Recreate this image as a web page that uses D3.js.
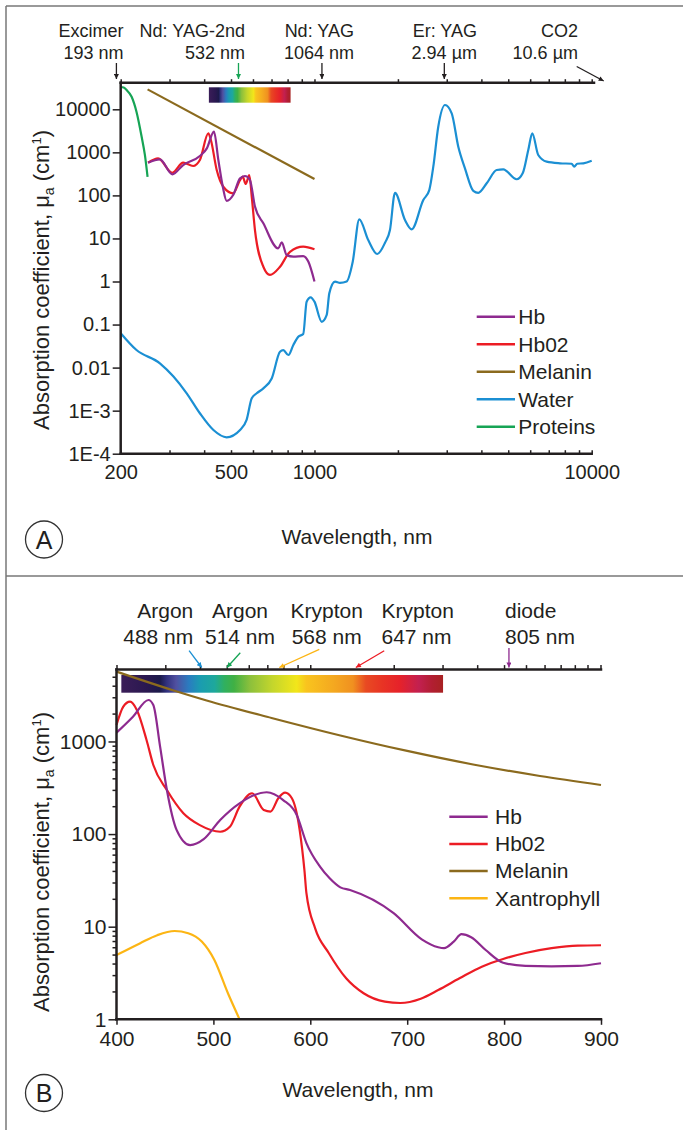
<!DOCTYPE html>
<html>
<head>
<meta charset="utf-8">
<script src="https://cdn.jsdelivr.net/npm/d3@7"></script>
<style>
  body { margin: 0; background: #fff; }
  svg { display: block; font-family: 'Liberation Sans', Arial, Helvetica, sans-serif; }
  text { fill: #231f20; }
</style>
</head>
<body>
<svg id="chart" width="683" height="1130"></svg>
<script>
// ---- data ----
// panel A: wavelength (nm), absorption coefficient (1/cm)
var hbA = [[251,575],[277,690],[307,309],[336,508],[386,822],[409,1240],[434,3020],[450,664],[467,159],[482,75],[509,102],[539,250],[561,282],[585,228],[610,55],[654,22.5],[740,5.9],[762,8.1],[794,4.1],[839,3.8],[911,3.9],[950,2.9],[1000,1.0]];
var hbo2A = [[251,575],[273,727],[307,336],[336,575],[365,482],[386,664],[414,2770],[423,1940],[444,389],[469,159],[509,112],[539,228],[551,272],[565,184],[582,298],[594,93],[610,15.7],[654,2.2],[691,1.42],[751,2.2],[816,4.9],[911,6.45],[1000,5.6]];
var melaninA = [[250,29000],[1000,240]];
var waterA = [[200,0.063],[228,0.0256],[277,0.0126],[310,0.0062],[346,0.00253],[386,0.00087],[432,3.55e-4],[482,2.4e-4],[539,3.55e-4],[569,6.1e-4],[594,1.94e-3],[619,2.53e-3],[654,3.3e-3],[701,5.6e-3],[751,0.0234],[772,0.0256],[805,0.0196],[839,0.0335],[874,0.0522],[911,0.0605],[937,0.34],[969,0.43],[1000,0.34],[1062,0.116],[1107,0.167],[1131,0.53],[1186,0.99],[1236,0.93],[1306,1.0],[1374,2.88],[1451,27.8],[1563,9.2],[1685,4.35],[1797,7.97],[1872,15.7],[1952,115],[2121,26.8],[2242,16.3],[2469,78],[2595,133],[2683,464],[2796,3945],[2957,12580],[3126,8080],[3302,1352],[3490,426],[3740,128],[3899,115],[4180,191],[4541,389],[4797,404],[5360,237],[5637,326],[5905,1135],[6105,2770],[6415,867],[6880,607],[7685,557],[8468,544],[8650,464],[8870,544],[9327,557],[10000,640]];
var proteinsA = [[200,33000],[205,32000],[210,28000],[219,19600],[228,8800],[238,2300],[244.5,870],[250,270]];

// panel B
var hbB = [[400,1245],[417,1853],[433,2805],[438,2477],[445,879],[452,299],[462,111],[476,76],[490,88],[507,142],[527,215],[555,283],[572,233],[586,161],[596,80],[610,44.5],[620,33.3],[631,26.6],[641,24.9],[686,14],[715,7.3],[732,6.0],[738,5.87],[748,6.9],[756,8.3],[766,7.7],[781,5.6],[799,4.08],[822,3.77],[849,3.73],[876,3.77],[900,4.03]];
var hbo2B = [[400,1507],[407,2375],[414,2690],[421,2190],[431,1038],[438,557],[452,299],[469,168],[486,125],[507,106],[517,120],[527,198],[540,276],[552,182],[559,175],[567,244],[574,280],[581,244],[589,111],[594,40],[596,23],[605,9.6],[619,5.2],[637,2.77],[655,1.91],[677,1.55],[693,1.5],[714,1.67],[732,2.07],[754,2.77],[777,3.7],[799,4.48],[822,5.2],[849,5.86],[876,6.25],[900,6.3]];
var melaninB = [[400,5680],[459,3555],[493,2772],[560,1794],[631,1161],[700,790],[768,564],[837,424],[900,339]];
var xanB = [[400,4.94],[424,6.6],[442,8.1],[460,8.98],[474,8.5],[488,6.9],[501,4.37],[515,1.91],[527,1.0]];

var namesA = ['Hb', 'Hb02', 'Melanin', 'Water', 'Proteins'];
var namesB = ['Hb', 'Hb02', 'Melanin', 'Xantrophyll'];

var lasersA = [
  {name: 'Excimer', wl: 193, text: '193 nm'},
  {name: 'Nd: YAG-2nd', wl: 532, text: '532 nm'},
  {name: 'Nd: YAG', wl: 1064, text: '1064 nm'},
  {name: 'Er: YAG', wl: 2940, text: '2.94 \u00b5m'},
  {name: 'CO2', wl: 10600, text: '10.6 \u00b5m'}
];
var lasersB = [
  {name: 'Argon', wl: 488, text: '488 nm'},
  {name: 'Argon', wl: 514, text: '514 nm'},
  {name: 'Krypton', wl: 568, text: '568 nm'},
  {name: 'Krypton', wl: 647, text: '647 nm'},
  {name: 'diode', wl: 805, text: '805 nm'}
];

var yTicksA = [1e4, 1e3, 1e2, 10, 1, 0.1, 0.01, 1e-3, 1e-4];
var yLabelsA = ['10000', '1000', '100', '10', '1', '0.1', '0.01', '1E-3', '1E-4'];
var xLabelsA = [200, 500, 1000, 10000];
var logTicks = [200,300,400,500,600,700,800,900,1000,2000,3000,4000,5000,6000,7000,8000,9000,10000];
var xTicksB = [400, 500, 600, 700, 800, 900];
var yTicksB = [1, 10, 100, 1000];
var spectrumA = [416, 820];
var spectrumB = [405, 737];

// ---- styles ----
var colors = {
  'Hb': '#8e2a8f', 'Hb02': '#ec1c24', 'Melanin': '#8b6a1e', 'Water': '#1b8fd3',
  'Proteins': '#16a455', 'Xantrophyll': '#fcb514'
};
var ink = '#231f20';
var specStops = [
  [0, '#3a1d58'], [0.08, '#2a1850'], [0.12, '#1c1a4a'], [0.14, '#30307c'], [0.17, '#5050a0'],
  [0.21, '#2a7cc0'], [0.245, '#1a9cb0'], [0.29, '#1ea89c'], [0.32, '#30b060'], [0.35, '#40b044'],
  [0.40, '#8cc03c'], [0.47, '#c4d62c'], [0.545, '#f2e61a'], [0.575, '#f9c41e'], [0.66, '#f4a820'],
  [0.72, '#f09020'], [0.76, '#e84a22'], [0.81, '#e83424'], [0.865, '#e6222a'], [0.925, '#c22050'],
  [0.965, '#b21e32'], [1, '#a82222']
];

var svg = d3.select('#chart');
var defs = svg.append('defs');

var grad = defs.append('linearGradient').attr('id', 'spec').attr('x1', 0).attr('x2', 1).attr('y1', 0).attr('y2', 0);
specStops.forEach(function(s) {
  grad.append('stop').attr('offset', s[0]).attr('stop-color', s[1]);
});

function arrowMarker(id, color) {
  defs.append('marker')
    .attr('id', id)
    .attr('viewBox', '0 0 10 10')
    .attr('refX', 10).attr('refY', 5)
    .attr('markerWidth', 6).attr('markerHeight', 5)
    .attr('markerUnits', 'userSpaceOnUse')
    .attr('orient', 'auto')
    .append('path').attr('d', 'M0,0L10,5L0,10z').attr('fill', color);
  return 'url(#' + id + ')';
}

// frame
svg.append('line').attr('x1', 6).attr('y1', 6).attr('x2', 683).attr('y2', 6).attr('stroke', '#777').attr('stroke-width', 1.5);
svg.append('line').attr('x1', 6).attr('y1', 6).attr('x2', 6).attr('y2', 1130).attr('stroke', '#777').attr('stroke-width', 1.5);
svg.append('line').attr('x1', 6).attr('y1', 576).attr('x2', 683).attr('y2', 576).attr('stroke', '#777').attr('stroke-width', 1.5);

function hline(x1, x2, y) {
  svg.append('line').attr('x1', x1).attr('x2', x2).attr('y1', y).attr('y2', y)
    .attr('stroke', ink).attr('stroke-width', 2.5).attr('stroke-linecap', 'square');
}
function vline(x, y1, y2) {
  svg.append('line').attr('x1', x).attr('x2', x).attr('y1', y1).attr('y2', y2)
    .attr('stroke', ink).attr('stroke-width', 2.5).attr('stroke-linecap', 'square');
}
function styleAxis(g, size) {
  g.select('.domain').remove();
  g.selectAll('.tick line').attr('stroke', ink).attr('stroke-width', 1.5);
  g.selectAll('.tick text').attr('fill', ink).style('font-size', size + 'px');
}

function yTitle(cx, cy) {
  var t = svg.append('text')
    .attr('transform', 'translate(' + cx + ',' + cy + ') rotate(-90)')
    .attr('text-anchor', 'middle')
    .style('font-size', '22px');
  t.append('tspan').text('Absorption coefficient, \u03bc');
  t.append('tspan').text('a').attr('dy', 5).style('font-size', '14px');
  t.append('tspan').text(' (cm').attr('dy', -5);
  t.append('tspan').text('1').attr('dy', -8).style('font-size', '13px');
  t.append('tspan').text(')').attr('dy', 8);
}

function panelLetter(cx, cy, letter) {
  svg.append('circle').attr('cx', cx).attr('cy', cy).attr('r', 18.5)
    .attr('fill', 'none').attr('stroke', '#333').attr('stroke-width', 1.3);
  svg.append('text').attr('x', cx).attr('y', cy).attr('dy', '0.36em')
    .attr('text-anchor', 'middle').style('font-size', '25px').text(letter);
}

function legend(names, x1, x2, tx, y0, step) {
  names.forEach(function(n, i) {
    var y = y0 + i * step;
    svg.append('line').attr('x1', x1).attr('x2', x2).attr('y1', y).attr('y2', y)
      .attr('stroke', colors[n]).attr('stroke-width', 2.5);
    svg.append('text').attr('x', tx).attr('y', y).attr('dy', '0.35em')
      .style('font-size', '21px').text(n);
  });
}

// ================= PANEL A =================
var xA = d3.scaleLog().domain([200, 10000]).range([120.7, 591.7]);
var yA = d3.scaleLog().domain([1e-4, 41500]).range([453.7, 82.7]);
var topA = yA.range()[1], botA = yA.range()[0];

var lineA = d3.line()
  .x(function(d) { return xA(d[0]); })
  .y(function(d) { return yA(d[1]); })
  .curve(d3.curveMonotoneX);

// visible spectrum strip
svg.append('rect')
  .attr('x', xA(spectrumA[0])).attr('width', xA(spectrumA[1]) - xA(spectrumA[0]))
  .attr('y', 87.3).attr('height', 15.4)
  .attr('fill', 'url(#spec)');

[['Water', waterA], ['Melanin', melaninA], ['Proteins', proteinsA], ['Hb02', hbo2A], ['Hb', hbA]].forEach(function(s) {
  svg.append('path').datum(s[1]).attr('d', lineA)
    .attr('fill', 'none').attr('stroke', colors[s[0]]).attr('stroke-width', 2.2)
    .attr('stroke-linejoin', 'round');
});

// axes A
svg.append('g').attr('transform', 'translate(0,' + topA + ')')
  .call(d3.axisTop(xA).tickValues(logTicks).tickSize(3.5).tickFormat(''))
  .call(styleAxis, 20);
svg.append('g').attr('transform', 'translate(0,' + botA + ')')
  .call(d3.axisBottom(xA).tickValues(logTicks).tickSizeInner(-3.5).tickSizeOuter(0).tickPadding(11.5)
    .tickFormat(function(d) { return xLabelsA.indexOf(d) >= 0 ? d : ''; }))
  .call(styleAxis, 20);
svg.append('g').attr('transform', 'translate(' + xA.range()[0] + ',0)')
  .call(d3.axisLeft(yA).tickValues(yTicksA).tickSize(8).tickPadding(2)
    .tickFormat(function(d, i) { return yLabelsA[i]; }))
  .call(styleAxis, 20);
hline(xA.range()[0], 594, topA);
hline(xA.range()[0], xA.range()[1], botA);
vline(xA.range()[0], topA, botA);

// laser annotations A
var labA = [{x: 123.5, a: 'end'}, {x: 245, a: 'end'}, {x: 354, a: 'end'}, {x: 477, a: 'end'}, {x: 578, a: 'end'}];
lasersA.forEach(function(l, i) {
  svg.append('text').attr('x', labA[i].x).attr('y', 37.3).attr('text-anchor', labA[i].a)
    .style('font-size', '18px').text(l.name);
  svg.append('text').attr('x', labA[i].x).attr('y', 59).attr('text-anchor', labA[i].a)
    .style('font-size', '18px').text(l.text);
  var col = l.wl === 532 ? colors.Proteins : ink;
  var m = arrowMarker('arA' + i, col);
  var tx = xA(l.wl);
  var isCO2 = l.wl > 10000;
  svg.append('line')
    .attr('x1', isCO2 ? tx - 22 : tx).attr('y1', isCO2 ? 66.5 : 63)
    .attr('x2', isCO2 ? tx + 5 : tx).attr('y2', isCO2 ? 81 : 79)
    .attr('stroke', col).attr('stroke-width', 1.3)
    .attr('marker-end', m);
});

legend(namesA, 476.7, 515, 518.3, 316.7, 27.5);
yTitle(49, 280);
svg.append('text').attr('x', 357).attr('y', 544).attr('text-anchor', 'middle')
  .style('font-size', '21px').text('Wavelength, nm');
panelLetter(44, 539.5, 'A');

// ================= PANEL B =================
var xB = d3.scaleLinear().domain([400, 900]).range([116.5, 601]);
var yB = d3.scaleLog().domain([1, 6000]).range([1019.3, 669.4]);
var xBtop = d3.scaleLog().domain([200, 10000]).range([116.5, 587.5]);
var topB = yB.range()[1], botB = yB.range()[0];

var lineB = d3.line()
  .x(function(d) { return xB(d[0]); })
  .y(function(d) { return yB(d[1]); })
  .curve(d3.curveMonotoneX);

svg.append('rect')
  .attr('x', xB(spectrumB[0])).attr('width', xB(spectrumB[1]) - xB(spectrumB[0]))
  .attr('y', 675).attr('height', 17.7)
  .attr('fill', 'url(#spec)');

[['Melanin', melaninB], ['Xantrophyll', xanB], ['Hb02', hbo2B], ['Hb', hbB]].forEach(function(s) {
  svg.append('path').datum(s[1]).attr('d', lineB)
    .attr('fill', 'none').attr('stroke', colors[s[0]]).attr('stroke-width', 2.2)
    .attr('stroke-linejoin', 'round');
});

// axes B
svg.append('g').attr('transform', 'translate(0,' + topB + ')')
  .call(d3.axisTop(xBtop).tickValues(logTicks).tickSize(4.3).tickFormat(''))
  .call(styleAxis, 21);
svg.append('line').attr('x1', xB.range()[1]).attr('x2', xB.range()[1])
  .attr('y1', topB).attr('y2', topB - 4.3).attr('stroke', ink).attr('stroke-width', 1.5);
svg.append('g').attr('transform', 'translate(0,' + botB + ')')
  .call(d3.axisBottom(xB).tickValues(xTicksB).tickSize(5.5).tickPadding(6).tickFormat(d3.format('d')))
  .call(styleAxis, 21);
var minorB = [];
[1, 10, 100, 1000].forEach(function(dec) {
  for (var k = 2; k <= 9; k++) { if (dec * k < 6000) minorB.push(dec * k); }
});
svg.append('g').attr('transform', 'translate(' + xB.range()[0] + ',0)')
  .call(d3.axisLeft(yB).tickValues(minorB).tickSize(4).tickFormat(''))
  .call(styleAxis, 21);
svg.append('g').attr('transform', 'translate(' + xB.range()[0] + ',0)')
  .call(d3.axisLeft(yB).tickValues(yTicksB).tickSize(8).tickPadding(2).tickFormat(d3.format('d')))
  .call(styleAxis, 21);
hline(xB.range()[0], xB.range()[1], topB);
hline(xB.range()[0], xB.range()[1], botB);
vline(xB.range()[0], topB, botB);

// laser annotations B
var labB = [{x: 193.3, a: 'end'}, {x: 240, a: 'middle'}, {x: 326.7, a: 'middle'}, {x: 381.5, a: 'start'}, {x: 505, a: 'start'}];
var arrB = [{dx: -12.7, y: 650.7, c: 'Water'}, {dx: 13.3, y: 652.7, c: 'Proteins'}, {dx: 40, y: 649.3, c: 'Xantrophyll'},
            {dx: 28.4, y: 650.7, c: 'Hb02'}, {dx: 0, y: 648, c: 'Hb'}];
lasersB.forEach(function(l, i) {
  svg.append('text').attr('x', labB[i].x).attr('y', 618.3).attr('text-anchor', labB[i].a)
    .style('font-size', '21px').text(l.name);
  svg.append('text').attr('x', labB[i].x).attr('y', 644).attr('text-anchor', labB[i].a)
    .style('font-size', '21px').text(l.text);
  var col = colors[arrB[i].c];
  var m = arrowMarker('arB' + i, col);
  var tx = xB(l.wl);
  svg.append('line')
    .attr('x1', tx + arrB[i].dx).attr('y1', arrB[i].y)
    .attr('x2', tx).attr('y2', 667.5)
    .attr('stroke', col).attr('stroke-width', 1.3)
    .attr('marker-end', m);
});

legend(namesB, 449.3, 487.7, 495, 816.7, 27.2);
yTitle(49, 862);
svg.append('text').attr('x', 358).attr('y', 1097).attr('text-anchor', 'middle')
  .style('font-size', '21px').text('Wavelength, nm');
panelLetter(44, 1093, 'B');
</script>
</body>
</html>
